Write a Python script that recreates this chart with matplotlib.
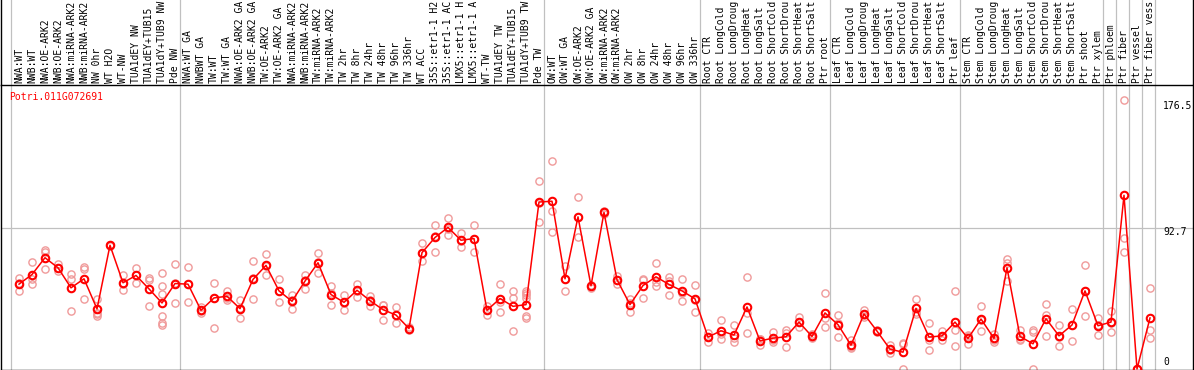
#!/usr/bin/env python3
"""Expression profile of Potri.011G072691 across poplar samples."""
import matplotlib
matplotlib.use("Agg")
import matplotlib.pyplot as plt
from matplotlib.transforms import blended_transform_factory

GENE = "Potri.011G072691"

samples = [
    "NWA:WT", "NWB:WT", "NWA:OE-ARK2", "NWB:OE-ARK2", "NWA:miRNA-ARK2",
    "NWB:miRNA-ARK2", "NW 0hr", "WT H2O", "WT-NW", "TUA1dEY NW",
    "TUA1dEY+TUB15 NW", "TUA1dY+TUB9 NW", "Pde NW",
    "NWA:WT GA", "NWBWT GA", "TW:WT", "TW:WT GA", "NWA:OE-ARK2 GA",
    "NWB:OE-ARK2 GA", "TW:OE-ARK2", "TW:OE-ARK2 GA", "NWA:miRNA-ARK2",
    "NWB:miRNA-ARK2", "TW:miRNA-ARK2", "TW:miRNA-ARK2", "TW 2hr", "TW 8hr",
    "TW 24hr", "TW 48hr", "TW 96hr", "TW 336hr", "WT ACC", "35S::etr1-1 H2O",
    "35S::etr1-1 ACC", "LMX5::etr1-1 H2O", "LMX5::etr1-1 ACC", "WT-TW",
    "TUA1dEY TW", "TUA1dEY+TUB15 TW", "TUA1dY+TUB9 TW", "Pde TW",
    "OW:WT", "OW:WT GA", "OW:OE-ARK2", "OW:OE-ARK2 GA", "OW:miRNA-ARK2",
    "OW:miRNA-ARK2", "OW 2hr", "OW 8hr", "OW 24hr", "OW 48hr", "OW 96hr",
    "OW 336hr",
    "Root CTR", "Root LongCold", "Root LongDrought", "Root LongHeat",
    "Root LongSalt", "Root ShortCold", "Root ShortDrought", "Root ShortHeat",
    "Root ShortSalt", "Ptr root",
    "Leaf CTR", "Leaf LongCold", "Leaf LongDrought", "Leaf LongHeat",
    "Leaf LongSalt", "Leaf ShortCold", "Leaf ShortDrought", "Leaf ShortHeat",
    "Leaf ShortSalt", "Ptr leaf",
    "Stem CTR", "Stem LongCold", "Stem LongDrought", "Stem LongHeat",
    "Stem LongSalt", "Stem ShortCold", "Stem ShortDrought", "Stem ShortHeat",
    "Stem ShortSalt", "Ptr shoot", "Ptr xylem",
    "Ptr phloem", "Ptr fiber", "Ptr vessel", "Ptr fiber vessel",
]

# mean expression per sample
means = [
    55.8, 62.1, 73.1, 66.5, 53.4, 59.3, 39.6, 81.2, 56.7, 61.5, 52.7, 43.5, 56.2,
    55.8, 38.7, 46.8, 47.9, 39.8, 58.9, 68.1, 51.4, 44.6, 57.8, 69.8, 49.0, 43.9,
    51.8, 45.0, 39.1, 35.6, 26.8, 76.4, 86.3, 92.9, 84.5, 85.6, 38.7, 46.4, 41.3,
    42.4, 109.5,
    110.0, 59.3, 99.8, 54.7, 102.7, 58.7, 42.4, 54.9, 60.6, 55.6, 51.4, 46.2,
    21.2, 25.3, 22.5, 40.9, 18.7, 20.5, 21.4, 31.0, 21.6, 37.0,
    29.3, 15.9, 36.3, 25.1, 13.3, 11.3, 40.0, 21.2, 22.0, 31.0,
    20.3, 33.0, 20.3, 66.5, 21.6, 16.8, 33.2, 22.0, 29.1, 51.4, 28.6,
    31.0, 113.9, 0.3, 33.7,
]

# individual replicates per sample
replicates = [
    [59.5, 51.4, 56.5], [70.5, 59.3, 56.2], [78.1, 76.8, 65.9], [68.7, 64.3, 66.5],
    [62.6, 58.9, 38.5], [67.0, 65.4, 46.2], [46.2, 37.0, 34.7, 36.0],
    [81.5, 80.8, 81.2], [62.1, 52.3, 56.0], [66.1, 56.7, 61.7], [59.5, 58.4, 41.8],
    [62.8, 54.9, 49.4, 35.2, 30.4, 29.3], [68.7, 43.5, 56.5],
    [67.2, 44.2, 56.0], [38.2, 37.0, 40.8], [56.7, 47.0, 27.1], [51.2, 45.7, 47.0],
    [45.7, 33.7, 40.0], [70.9, 46.2, 59.5], [75.3, 61.5, 67.5], [58.9, 44.2, 51.0],
    [49.0, 39.6, 45.2], [62.1, 52.7, 58.5], [75.9, 63.2, 70.2], [54.9, 42.2, 49.8],
    [49.0, 39.1, 43.5], [56.2, 47.5, 51.6], [48.3, 41.3, 45.4], [42.4, 32.6, 42.0],
    [40.9, 30.4, 35.5], [27.8, 26.0, 26.6], [82.5, 70.9, 76.0], [94.4, 77.1, 87.4],
    [99.0, 87.8, 92.0], [89.1, 80.4, 84.0], [94.4, 77.1, 85.3], [41.3, 35.8, 39.0],
    [56.2, 43.9, 37.6], [51.6, 46.8, 25.3], [51.5, 50.0, 48.5, 47.0, 34.7, 33.8],
    [123.1, 96.2, 109.0],
    [136.5, 103.4, 90.2], [67.6, 51.0, 59.0], [112.8, 86.9, 99.5], [55.5, 53.6, 54.9],
    [103.5, 101.8, 102.9], [61.0, 56.2, 58.8], [46.2, 37.6, 43.4], [59.3, 46.8, 58.6],
    [69.8, 54.9, 57.2], [60.2, 49.0, 57.6], [59.3, 44.8, 50.2], [55.4, 37.6, 45.6],
    [23.8, 18.3, 21.5], [32.6, 19.9, 23.4], [29.1, 17.9, 20.5], [60.6, 37.0, 23.8],
    [20.2, 15.7, 20.1], [24.5, 17.9, 19.1], [25.5, 14.8, 24.0], [34.3, 27.8, 30.9],
    [23.0, 20.8, 21.0], [49.7, 33.7, 27.8],
    [35.8, 21.4, 30.7], [19.0, 13.9, 14.8], [39.1, 35.5, 34.3], [25.6, 24.8, 24.9],
    [16.1, 11.1, 12.7], [16.6, 0.3, 17.0], [46.4, 37.6, 36.0], [30.4, 19.0, 12.6],
    [24.9, 19.4, 21.7], [51.6, 26.0, 15.5],
    [22.0, 16.6, 22.3], [41.6, 25.3, 32.1], [23.3, 18.2, 19.4], [72.0, 57.8, 69.7],
    [25.5, 19.8, 19.5], [26.0, 24.5, 0.3], [43.1, 35.8, 21.8], [29.1, 15.5, 21.4],
    [39.8, 18.7, 28.8], [68.1, 35.2, 51.0], [33.9, 22.5, 29.4],
    [38.0, 24.7, 30.3], [176.5, 85.8, 77.1], [0.3, 0.2, 0.4], [53.4, 26.0, 20.5],
]

# last sample index of each group (separator drawn after it)
group_ends = [-1, 12, 40, 52, 62, 72, 83, 84, 85, 86, 87]
ytick_vals = [176.5, 92.7, 0]
ytick_labels = ["176.5", "92.7", "0"]

W, H = 1194, 370
MONO = "DejaVu Sans Mono"
FS = 7.0
GREY = "#c0c0c0"
PINK = "#f09a9a"
MAXCH = 14  # header column only fits this many characters

fig = plt.figure(figsize=(W / 100, H / 100), dpi=100)

# pixel layout: sample i centred at x = 19 + 13*i
x0 = (1 - 19) / 13
x1 = (1193 - 19) / 13

hdr = fig.add_axes([1 / W, 285 / H, 1192 / W, 85 / H])
ax = fig.add_axes([1 / W, 0.5 / H, 1192 / W, 284.5 / H])

for a in (hdr, ax):
    a.set_xlim(x0, x1)
    a.set_xticks([])
    a.set_yticks([])
    for s in a.spines.values():
        s.set_color("black")
        s.set_linewidth(1.0)
hdr.spines["bottom"].set_visible(False)
hdr.spines["top"].set_visible(False)
hdr.set_ylim(0, 1)
ax.set_ylim(0, 186)

xs = list(range(len(samples)))

for g in group_ends:
    for a in (hdr, ax):
        a.axvline(g + 5 / 13, color=GREY, lw=0.9, zorder=0)
ax.axhline(92.7, color=GREY, lw=0.9, zorder=0)

# sample labels in the header (cut to the column height, as in the page)
tr = blended_transform_factory(hdr.transData, hdr.transAxes)
for x, name in zip(xs, samples):
    hdr.text(x, 2 / 85, name[:MAXCH].rstrip(), rotation=90, ha="center",
             va="bottom", family=MONO, fontsize=FS, transform=tr)

# replicates
for x, reps in zip(xs, replicates):
    ax.plot([x] * len(reps), reps, "o", ms=5.2, mfc="none", mec=PINK,
            mew=1.0, zorder=2)

# mean line
ax.plot(xs, means, "-", color="red", lw=1.1, zorder=3)
ax.plot(xs, means, "o", ms=5.4, mfc="none", mec="red", mew=1.5, zorder=4)

ax.text(-0.75, 178.3, GENE, color="red", family=MONO, fontsize=FS,
        va="center", ha="left")

offsets = [-5.0, -2.9, 5.2]
for v, lab, dy in zip(ytick_vals, ytick_labels, offsets):
    ax.annotate(lab, (88.0, v), xytext=(0, dy), textcoords="offset points",
                family=MONO, fontsize=FS, va="center", ha="left")

fig.savefig("out.png", dpi=100)
